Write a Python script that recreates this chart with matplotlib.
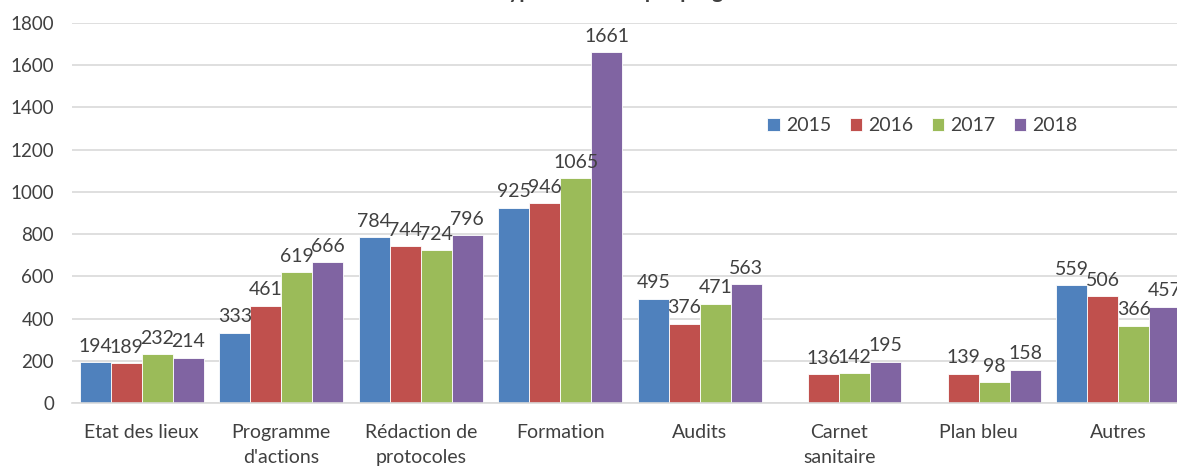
import numpy as np
import matplotlib.pyplot as plt

categories = ["Etat des lieux", "Programme\nd'actions", "Rédaction de\nprotocoles",
              "Formation", "Audits", "Carnet\nsanitaire", "Plan bleu", "Autres"]
years = ["2015", "2016", "2017", "2018"]
v2015 = [194, 333, 784, 925, 495, np.nan, np.nan, 559]
v2016 = [189, 461, 744, 946, 376, 136, 139, 506]
v2017 = [232, 619, 724, 1065, 471, 142, 98, 366]
v2018 = [214, 666, 796, 1661, 563, 195, 158, 457]
colors = ["#4F81BD", "#C0504D", "#9BBB59", "#8064A2"]

plt.rcParams['font.family'] = ['Lato', 'DejaVu Sans']

fig = plt.figure(figsize=(11.77, 4.66), dpi=100)
ax = fig.add_axes([72 / 1177, 63 / 466, 1116 / 1177, 380 / 466])

x = np.arange(len(categories))
w = 0.222
for i, (vals, yr, c) in enumerate(zip([v2015, v2016, v2017, v2018], years, colors)):
    pos = x + (i - 1.5) * w
    ax.bar(pos, vals, width=w, color=c, label=yr, edgecolor='white', linewidth=0.6)
    for p, v in zip(pos, vals):
        if not np.isnan(v):
            ax.text(p, v + 35, f"{int(v)}", ha='center', va='bottom',
                    fontsize=14, color='#404040')

ax.set_xlim(-0.5, len(categories) - 0.5)
ax.set_ylim(0, 1800)
ax.set_yticks(range(0, 1801, 200))
ax.set_xticks(x)
ax.set_xticklabels(categories, fontsize=14, color='#404040', linespacing=1.6)
ax.tick_params(axis='y', labelsize=13.5, labelcolor='#404040', length=0, pad=13)
ax.tick_params(axis='x', length=0, pad=15)
ax.grid(axis='y', color='#D9D9D9', linewidth=1.2)
ax.set_axisbelow(True)
for s in ['top', 'right', 'left']:
    ax.spines[s].set_visible(False)
ax.spines['bottom'].set_color('#D9D9D9')
ax.spines['bottom'].set_linewidth(1.2)

ax.legend(loc='center', bbox_to_anchor=(0.762, 0.73), ncol=4, frameon=False,
          fontsize=14, handlelength=0.65, handleheight=0.65, handletextpad=0.3,
          columnspacing=0.95, labelcolor='#404040')

fig.text(0.545, 1.004, "Types d'actions par programme", ha='center', va='baseline',
         fontsize=15, fontweight='bold', color='#404040')

fig.savefig("out.png", dpi=100)
